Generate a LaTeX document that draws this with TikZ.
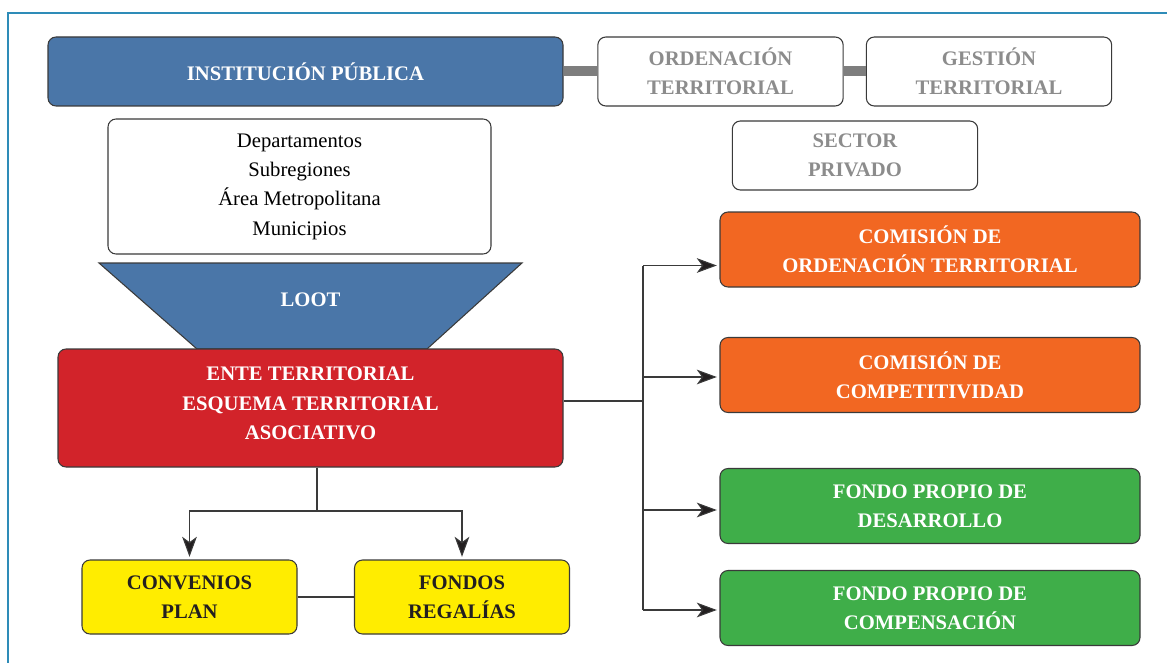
\documentclass[tikz,border=0pt]{standalone}
\usepackage{fontspec}
\setmainfont{Liberation Serif}
\usepackage{xcolor}
\usepackage{tikz}
\usetikzlibrary{arrows.meta,positioning}
\definecolor{otblue}{HTML}{4A76A8}
\definecolor{otred}{HTML}{D2232A}
\definecolor{otorange}{HTML}{F26722}
\definecolor{otgreen}{HTML}{3FAE49}
\definecolor{otyellow}{HTML}{FFED00}
\definecolor{otgray}{HTML}{8C8C8C}
\definecolor{otline}{HTML}{3A3A3A}
\definecolor{otframe}{HTML}{2E8CB8}
\definecolor{otink}{HTML}{231F20}

\begin{document}
\begin{tikzpicture}[
  x=0.75pt, y=-0.75pt,
  font=\fontsize{15.5}{22}\selectfont,
  box/.style={draw=otline, line width=0.8pt, rounded corners=6pt, align=center, inner sep=0pt},
  blue/.style={box, fill=otblue, text=white, font=\fontsize{15.5}{22}\selectfont\bfseries},
  plain/.style={box, fill=white, text=otgray, font=\fontsize{15.5}{22}\selectfont\bfseries, minimum width=184pt, minimum height=51.75pt},
  entebox/.style={box, fill=otred, text=white, font=\fontsize{15.5}{22}\selectfont\bfseries},
  orange/.style={box, fill=otorange, text=white, font=\fontsize{15.5}{22}\selectfont\bfseries, minimum width=315pt, minimum height=56.25pt},
  green/.style={box, fill=otgreen, text=white, font=\fontsize{15.5}{22}\selectfont\bfseries, minimum width=315pt, minimum height=56.25pt},
  yellow/.style={box, fill=otyellow, text=otink, font=\fontsize{15.5}{22}\selectfont\bfseries, minimum width=161.25pt, minimum height=55.5pt},
  link/.style={line width=7.5pt, draw=otgray!90!black},
  wire/.style={line width=0.8pt, draw=otline},
  arrow/.style={-{Stealth[length=15pt, width=11pt, inset=4pt, fill=otink]}, line width=0.8pt, draw=otline, shorten >=2pt}
]
\useasboundingbox (0,0) rectangle (1167,663);
% frame
\draw[otframe, line width=1.1pt] (8,663) -- (8,13) -- (1167,13);

% top row
\node[blue, minimum width=386.25pt, minimum height=51.75pt] (inst) at (305.5,71.5) {INSTITUCIÓN PÚBLICA};
\node[plain] (orden) at (720.5,71.5) {ORDENACIÓN\\TERRITORIAL};
\node[plain] (gestion) at (989,71.5) {GESTIÓN\\TERRITORIAL};
\node[plain] (sector) at (855,155.5) {SECTOR\\PRIVADO};
\node[box, fill=white, text=black, minimum width=287.25pt, minimum height=101.25pt] (deps) at (299.5,186.5)
  {Departamentos\\Subregiones\\Área Metropolitana\\Municipios};

% funnel
\filldraw[fill=otblue, draw=otline, line width=0.8pt] (99,263) -- (522,263) -- (427,349) -- (197,349) -- cycle;
\node[text=white, font=\fontsize{15.5}{22}\selectfont\bfseries] (loot) at (310.5,300) {LOOT};

\node[entebox, minimum width=378.75pt, minimum height=88.5pt, text depth=7pt] (ente) at (310.5,408)
  {ENTE TERRITORIAL\\ESQUEMA TERRITORIAL\\ASOCIATIVO};

% right column
\node[orange] (comord) at (930,249.5) {COMISIÓN DE\\ORDENACIÓN TERRITORIAL};
\node[orange] (comcomp) at (930,375) {COMISIÓN DE\\COMPETITIVIDAD};
\node[green] (fondes) at (930,506) {FONDO PROPIO DE\\DESARROLLO};
\node[green] (fondcomp) at (930,608) {FONDO PROPIO DE\\COMPENSACIÓN};

% bottom row
\node[yellow] (conv) at (189.5,597) {CONVENIOS\\PLAN};
\node[yellow] (fondos) at (462,597) {FONDOS\\REGALÍAS};

% connectors
\draw[link] (inst) -- (orden);
\draw[link] (orden) -- (gestion);
\draw[wire] (conv) -- (fondos);

\coordinate (bus) at (643,401);
\coordinate (drop) at (317,511);
\coordinate (tip1) at ([yshift=-12pt]comord.west);
\coordinate (tip2) at ([yshift=-1.5pt]comcomp.west);
\coordinate (tip3) at ([yshift=-3pt]fondes.west);
\coordinate (tip4) at ([yshift=-1.5pt]fondcomp.west);
\draw[wire] (bus -| ente.east) -- (bus);
\draw[wire] (tip1 -| bus) -- (tip4 -| bus);
\draw[arrow] (tip1 -| bus) -- (tip1);
\draw[arrow] (tip2 -| bus) -- (tip2);
\draw[arrow] (tip3 -| bus) -- (tip3);
\draw[arrow] (tip4 -| bus) -- (tip4);

\draw[wire] (drop |- ente.south) -- (drop);
\draw[arrow] (drop) -| (conv.north);
\draw[arrow] (drop) -| (fondos.north);
\end{tikzpicture}
\end{document}
